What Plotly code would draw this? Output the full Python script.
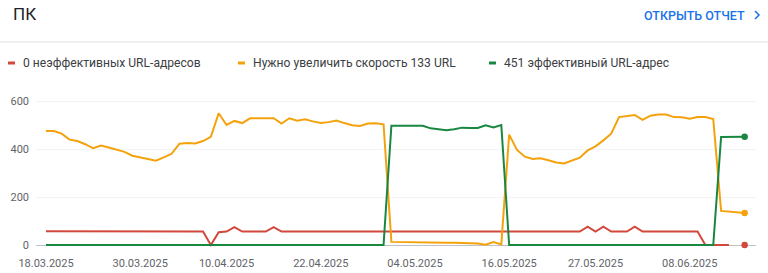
import pandas as pd
import plotly.graph_objects as go

# ---- data ----
start_date = "2025-03-18"
n_days = 90
dates = pd.date_range(start_date, periods=n_days, freq="D")

poor_values = ([57] * 7 + [56] * 14 + [0, 53, 56, 74, 56, 56, 56, 56, 74] + [56] * 39
               + [76, 56, 76, 56, 56, 56, 76] + [56] * 8 + [0, 0, 0, 0])
needs_improvement_values = [
    475, 475, 464, 439, 433, 420, 403, 414, 406, 396,
    388, 372, 365, 358, 351, 365, 380, 422, 425, 423,
    433, 451, 549, 500, 517, 508, 528, 528, 528, 528,
    506, 528, 518, 524, 515, 508, 512, 519, 508, 499,
    496, 506, 507, 503, 13, 12, 12, 11, 11, 10,
    10, 9, 9, 8, 8, 6, 1, 12, 2, 460,
    396, 368, 358, 361, 353, 344, 340, 353, 364, 394,
    411, 436, 464, 533, 536, 542, 521, 539, 544, 544,
    533, 532, 526, 533, 533, 525, 142, 139, 138, 133,
]
good_values = ([0] * 44 + [497, 496, 497, 497, 497, 486, 482, 478, 482, 489,
                          487, 488, 499, 490, 500] + [0] * 27 + [450, 450, 450, 451])

series_names = ["0 неэффективных URL-адресов", "Нужно увеличить скорость 133 URL",
                "451 эффективный URL-адрес"]
series_colors = ["#d2483c", "#f4a20c", "#1a8741"]
series_values = [poor_values, needs_improvement_values, good_values]

tick_dates = ["2025-03-18", "2025-03-30", "2025-04-10", "2025-04-22",
              "2025-05-04", "2025-05-16", "2025-05-27", "2025-06-08"]
tick_labels = [pd.Timestamp(d).strftime("%d.%m.%Y") for d in tick_dates]
y_ticks = [0, 200, 400, 600]

title_text = "ПК"
link_text = "ОТКРЫТЬ ОТЧЕТ"

# ---- layout geometry (pixels) ----
W, H = 768, 273
L, R, T, B = 36, 756, 90, 255


def px(x):
    return (x - L) / (R - L)


def py(y):
    return (B - y) / (B - T)


fig = go.Figure()
for name, color, vals in zip(series_names, series_colors, series_values):
    fig.add_trace(go.Scatter(x=dates, y=vals, mode="lines", name=name,
                             line=dict(color=color, width=2), showlegend=False,
                             hoverinfo="skip"))
    fig.add_trace(go.Scatter(x=[dates[-1]], y=[vals[-1]], mode="markers",
                             marker=dict(color=color, size=6.5), showlegend=False,
                             hoverinfo="skip"))

day_px = 7.85
x0 = dates[0] - pd.Timedelta(days=10 / day_px)
x1 = x0 + pd.Timedelta(days=(R - L) / day_px)
unit_px = 0.24
y0 = -(B - 245) / unit_px
y1 = (245 - T) / unit_px

fig.update_xaxes(range=[x0, x1], tickvals=pd.to_datetime(tick_dates), ticktext=tick_labels,
                 showgrid=False, zeroline=False, showline=False, ticks="", automargin=False,
                 tickfont=dict(family="Roboto", size=11, color="#5f6368"))
fig.update_yaxes(range=[y0, y1], tickvals=y_ticks, showgrid=True, gridcolor="#f1f3f4",
                 gridwidth=1, zeroline=True, zerolinecolor="#bdc1c6", zerolinewidth=1,
                 showline=False, ticks="", ticklabelstandoff=6, automargin=False,
                 tickfont=dict(family="Roboto", size=11, color="#5f6368"))

shapes = [
    dict(type="line", xref="paper", yref="paper", x0=px(0), x1=px(W), y0=py(42), y1=py(42),
         line=dict(color="#e8eaed", width=1.5)),
    dict(type="path", xref="paper", yref="paper",
         path=f"M {px(755)} {py(11)} L {px(759)} {py(15)} L {px(755)} {py(19)}",
         line=dict(color="#1a73e8", width=1.5)),
]
annotations = [
    dict(text=title_text, xref="paper", yref="paper", x=px(11), y=py(14), xanchor="left",
         yanchor="middle", showarrow=False, font=dict(family="Roboto", size=17, color="#202124")),
    dict(text=link_text, xref="paper", yref="paper", x=px(747), y=py(15), xanchor="right",
         yanchor="middle", showarrow=False,
         font=dict(family="Roboto", size=12.5, color="#1a73e8", weight=500)),
]
legend_x = [8, 238, 489]
for lx, name, color in zip(legend_x, series_names, series_colors):
    shapes.append(dict(type="line", xref="paper", yref="paper", x0=px(lx), x1=px(lx + 7),
                       y0=py(63), y1=py(63), line=dict(color=color, width=3)))
    annotations.append(dict(text=name, xref="paper", yref="paper", x=px(lx + 13), y=py(63),
                            xanchor="left", yanchor="middle", showarrow=False,
                            font=dict(family="Roboto", size=12.1, color="#3c4043")))

fig.update_layout(width=W, height=H, margin=dict(l=L, r=W - R, t=T, b=H - B),
                  plot_bgcolor="white", paper_bgcolor="white", shapes=shapes,
                  annotations=annotations)
fig.write_html("out.html")
